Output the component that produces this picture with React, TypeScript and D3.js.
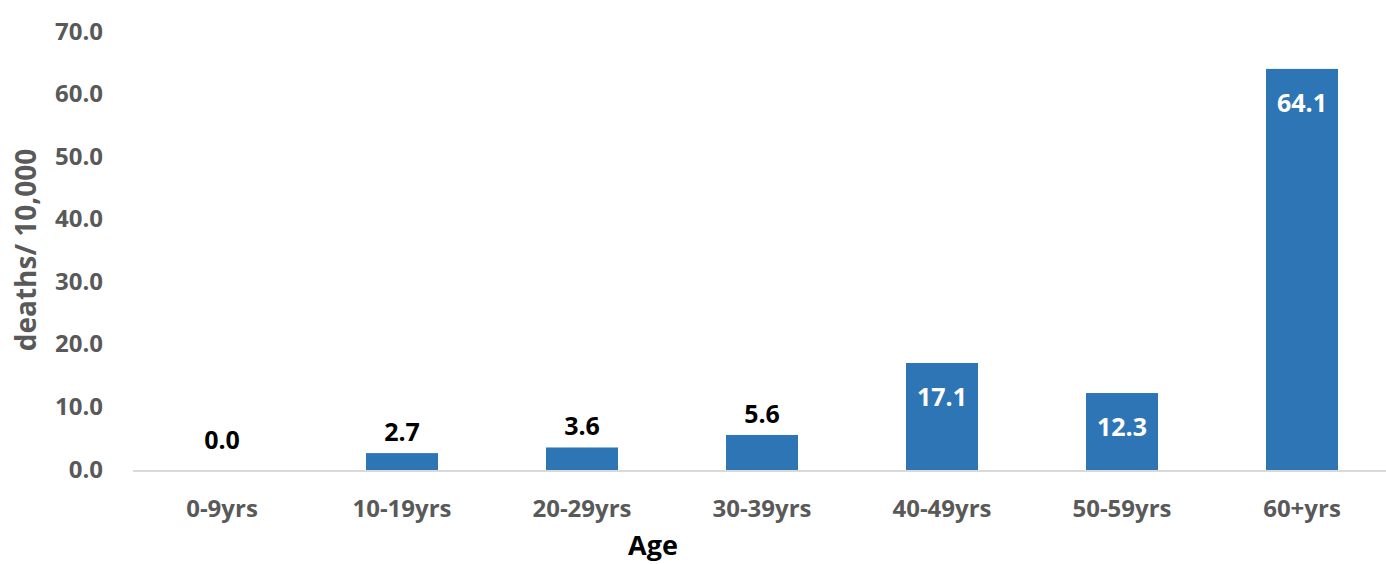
import React from "react";
import * as d3 from "d3";

const categories = ["0-9yrs", "10-19yrs", "20-29yrs", "30-39yrs", "40-49yrs", "50-59yrs", "60+yrs"];
const deathsPer10k = [0.0, 2.7, 3.6, 5.6, 17.1, 12.3, 64.1];
const yTicks = [0, 10, 20, 30, 40, 50, 60, 70];
const xAxisTitle = "Age";
const yAxisTitle = "deaths/ 10,000";

const W = 1386;
const H = 564;
const FONT = "'Open Sans', 'Noto Sans', sans-serif";
const BAR = "#2E75B6";

export default function App() {
  const x = d3.scaleBand<string>().domain(categories).range([132, 1392]).paddingInner(0.6).paddingOuter(0.3);
  const y = d3.scaleLinear().domain([0, 70]).range([470, 32]);
  const insideThreshold = 10;

  return (
    <svg
      width={W}
      height={H}
      style={{ position: "fixed", left: 0, top: 0, background: "#fff" }}
      fontFamily={FONT}
    >
      <rect x={0} y={0} width={W} height={H} fill="#fff" />
      {/* y tick labels */}
      {yTicks.map((t) => (
        <text
          key={t}
          x={103}
          y={y(t) - 2}
          textAnchor="end"
          dominantBaseline="central"
          fontSize={24}
          fontWeight={700}
          fill="#595959"
        >
          {t.toFixed(1)}
        </text>
      ))}
      {/* bars */}
      {categories.map((c, i) => {
        const v = deathsPer10k[i];
        const bx = x(c)!;
        const top = y(v);
        return (
          <rect key={c} x={bx} y={top} width={x.bandwidth()} height={y(0) - top} fill={BAR} />
        );
      })}
      {/* axis line */}
      <line x1={133} x2={1392} y1={y(0) + 1} y2={y(0) + 1} stroke="#d9d9d9" strokeWidth={2} />
      {/* value labels */}
      {categories.map((c, i) => {
        const v = deathsPer10k[i];
        const cx = x(c)! + x.bandwidth() / 2;
        const inside = v > insideThreshold;
        const yy = inside ? y(v) + 43 : Math.min(y(v) - 12, y(0) - 21);
        return (
          <text
            key={c}
            x={cx}
            y={yy}
            textAnchor="middle"
            fontSize={25}
            fontWeight={700}
            fill={inside ? "#ffffff" : "#000000"}
          >
            {v.toFixed(1)}
          </text>
        );
      })}
      {/* category labels */}
      {categories.map((c) => (
        <text
          key={c}
          x={x(c)! + x.bandwidth() / 2}
          y={517}
          textAnchor="middle"
          fontSize={24}
          fontWeight={700}
          fill="#595959"
        >
          {c}
        </text>
      ))}
      {/* axis titles */}
      <text x={653} y={555} textAnchor="middle" fontSize={27} fontWeight={700} fill="#000">
        {xAxisTitle}
      </text>
      <text
        transform={`translate(36, 250) rotate(-90)`}
        textAnchor="middle"
        fontSize={28}
        fontWeight={700}
        fill="#595959"
      >
        {yAxisTitle}
      </text>
    </svg>
  );
}
